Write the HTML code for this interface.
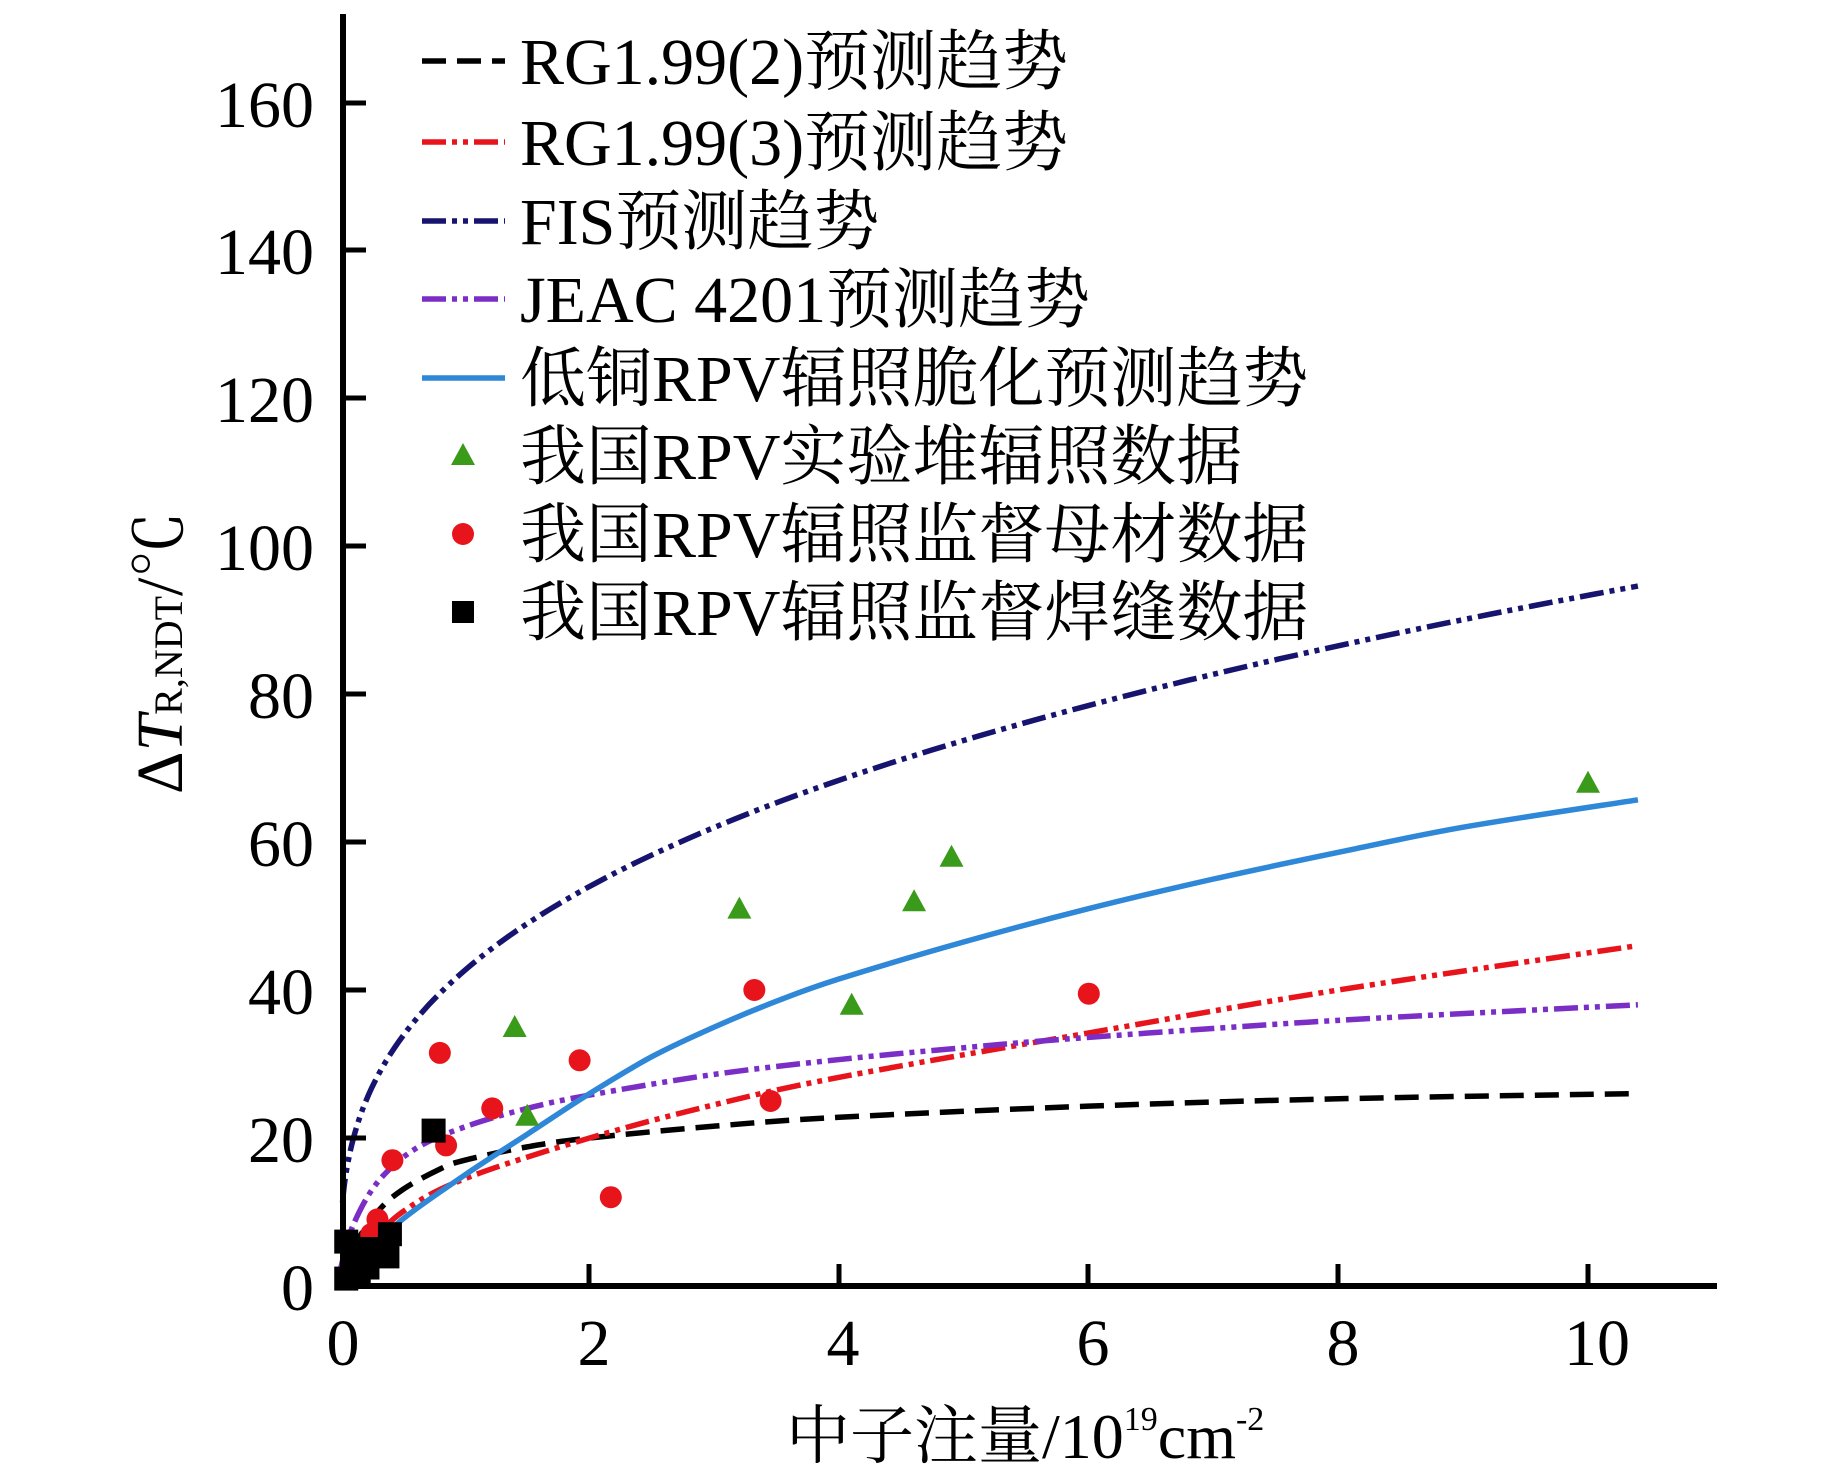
<!DOCTYPE html>
<html><head><meta charset="utf-8"><style>
html,body{margin:0;padding:0;background:#fff;}
svg{display:block}
text{font-family:"Liberation Serif","Noto Serif CJK SC","Noto Sans CJK SC",serif;fill:#000}
</style></head><body>
<svg id="s" width="1843" height="1476" viewBox="0 0 1843 1476" xmlns="http://www.w3.org/2000/svg">
<rect width="1843" height="1476" fill="#fff"/>
<g id="curves" fill="none" stroke-width="5.5"></g>
<g id="marks"></g>
<line x1="343" y1="14" x2="343" y2="1289" stroke="#000" stroke-width="6"/>
<line x1="340" y1="1286" x2="1717" y2="1286" stroke="#000" stroke-width="6"/>
<g stroke="#000" stroke-width="5">
<line x1="343" y1="1138" x2="366" y2="1138"/>
<line x1="343" y1="990" x2="366" y2="990"/>
<line x1="343" y1="842" x2="366" y2="842"/>
<line x1="343" y1="694" x2="366" y2="694"/>
<line x1="343" y1="546" x2="366" y2="546"/>
<line x1="343" y1="398" x2="366" y2="398"/>
<line x1="343" y1="250" x2="366" y2="250"/>
<line x1="343" y1="103" x2="366" y2="103"/>
<line x1="589" y1="1286" x2="589" y2="1264"/>
<line x1="839" y1="1286" x2="839" y2="1264"/>
<line x1="1088" y1="1286" x2="1088" y2="1264"/>
<line x1="1338" y1="1286" x2="1338" y2="1264"/>
<line x1="1588" y1="1286" x2="1588" y2="1264"/>
</g>
<g font-size="66" text-anchor="end">
<text x="314" y="1310">0</text>
<text x="314" y="1162">20</text>
<text x="314" y="1014">40</text>
<text x="314" y="866">60</text>
<text x="314" y="718">80</text>
<text x="314" y="570">100</text>
<text x="314" y="422">120</text>
<text x="314" y="274">140</text>
<text x="314" y="127">160</text>
</g>
<g font-size="66" text-anchor="middle">
<text x="343" y="1365">0</text>
<text x="594" y="1365">2</text>
<text x="843" y="1365">4</text>
<text x="1093" y="1365">6</text>
<text x="1343" y="1365">8</text>
<text x="1597" y="1365">10</text>
</g>
<text transform="translate(182,794) rotate(-90)" font-size="66">Δ<tspan font-style="italic">T</tspan><tspan font-size="40">R,NDT</tspan>/℃</text>
<text x="786" y="1458" font-size="64">中子注量/10<tspan font-size="34" dy="-28">19</tspan><tspan dy="28">cm</tspan><tspan font-size="34" dy="-28">-2</tspan></text>
<g stroke-width="5.5" fill="none">
<line x1="422" y1="61" x2="505" y2="61" stroke="#000" stroke-dasharray="24,11"/>
<line x1="422" y1="142" x2="505" y2="142" stroke="#e8141c" stroke-dasharray="24,6,5,6,5,6"/>
<line x1="422" y1="221" x2="505" y2="221" stroke="#16146e" stroke-dasharray="24,6,5,6,5,6"/>
<line x1="422" y1="299" x2="505" y2="299" stroke="#7b2ec6" stroke-dasharray="24,6,5,6,5,6"/>
<line x1="422" y1="378" x2="505" y2="378" stroke="#2f87d8"/>
</g>
<polygon points="463,443 451,465 475,465" fill="#3a9a1a"/>
<circle cx="463" cy="534" r="11" fill="#e8141c"/>
<rect x="452" y="601" width="22" height="22" fill="#000"/>
<g font-size="66">
<text x="520" y="84">RG1.99(2)预测趋势</text>
<text x="520" y="165">RG1.99(3)预测趋势</text>
<text x="520" y="244">FIS预测趋势</text>
<text x="520" y="322">JEAC 4201预测趋势</text>
<text x="520" y="401">低铜RPV辐照脆化预测趋势</text>
<text x="520" y="479">我国RPV实验堆辐照数据</text>
<text x="520" y="557">我国RPV辐照监督母材数据</text>
<text x="520" y="635">我国RPV辐照监督焊缝数据</text>
</g>
</svg>
<script>
const X=v=>340+124.8*v, Y=v=>1286-7.4*v;
const NS="http://www.w3.org/2000/svg";
function path(pts){
  const p=pts.map(a=>[X(a[0]),Y(a[1])]);
  let d="M"+p[0][0]+","+p[0][1];
  for(let i=0;i<p.length-1;i++){
    const p0=p[Math.max(0,i-1)],p1=p[i],p2=p[i+1],p3=p[Math.min(p.length-1,i+2)];
    const c1=[p1[0]+(p2[0]-p0[0])/6,p1[1]+(p2[1]-p0[1])/6];
    const c2=[p2[0]-(p3[0]-p1[0])/6,p2[1]-(p3[1]-p1[1])/6];
    d+=" C"+c1+" "+c2+" "+p2;
  }
  return d;
}
function fpath(f,a,b,n){let d="";for(let i=0;i<=n;i++){const x=a+(b-a)*Math.pow(i/n,2);d+=(i?" L":"M")+X(x).toFixed(1)+","+Y(f(x)).toFixed(1);}return d;}
const curves=[
 ["#000","24,11",path([[0,0],[0.1,5],[0.3,10],[0.5,13],[0.8,15.8],[1,17],[1.5,18.8],[2,20],[3,21.6],[4,22.8],[6,24.3],[8,25.3],[10.4,26]])],
 ["#e8141c","24,6,5,6,5,6",path([[0.1,3],[0.2,5],[0.5,10],[1,14.5],[2,20],[3,24.5],[4,28.2],[6,34.2],[8,40],[10.4,46]])],
 ["#7b2ec6","24,6,5,6,5,6",path([[0,2],[0.1,8],[0.3,14],[0.6,18.5],[1,21.5],[1.5,24],[2,25.8],[3,28.6],[4,30.6],[5,32.2],[6,33.6],[8,35.9],[10.4,38]])],
 ["#16146e","24,6,5,6,5,6",fpath(x=>54*Math.pow(x/2,0.34),0.02,10.4,120)],
 ["#2f87d8",null,path([[0.2,4],[0.5,9],[1,15],[1.5,20.5],[2,26],[2.5,31],[3,35],[3.5,38.5],[4,41.5],[5,46.5],[6,51],[7,55],[8,58.6],[9,62],[10.4,65.7]])]
];
const g=document.getElementById("curves");
curves.forEach(c=>{const e=document.createElementNS(NS,"path");e.setAttribute("d",c[2]);e.setAttribute("stroke",c[0]);if(c[1])e.setAttribute("stroke-dasharray",c[1]);g.appendChild(e);});
const m=document.getElementById("marks");
[[1.4,35],[1.5,23],[3.2,51],[4.1,38],[4.6,52],[4.9,58],[10,68]].forEach(a=>{const x=X(a[0]),y=Y(a[1]);const e=document.createElementNS(NS,"polygon");e.setAttribute("points",`${x},${y-12} ${x-12},${y+10} ${x+12},${y+10}`);e.setAttribute("fill","#3a9a1a");m.appendChild(e);});
[[0.3,9],[0.25,7],[0.42,17],[0.8,31.5],[0.85,19],[1.22,24],[1.92,30.5],[2.17,12],[3.32,40],[3.45,25],[6.0,39.5]].forEach(a=>{const e=document.createElementNS(NS,"circle");e.setAttribute("cx",X(a[0]));e.setAttribute("cy",Y(a[1]));e.setAttribute("r",11);e.setAttribute("fill","#e8141c");m.appendChild(e);});
[[0.75,21],[0.4,7],[0.38,4],[0.2,3],[0.22,5],[0.1,2],[0.05,6],[0.05,1],[0.1,4],[0.15,2],[0.22,2.5]].forEach(a=>{const e=document.createElementNS(NS,"rect");e.setAttribute("x",X(a[0])-12);e.setAttribute("y",Y(a[1])-12);e.setAttribute("width",24);e.setAttribute("height",24);e.setAttribute("fill","#000");m.appendChild(e);});
</script>
</body></html>
